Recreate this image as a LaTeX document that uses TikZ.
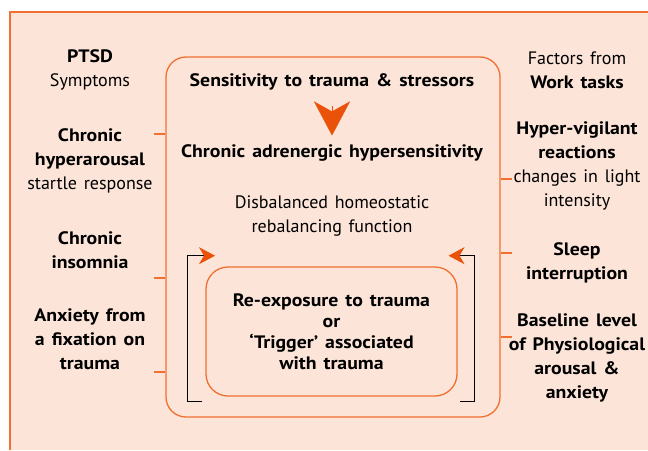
\documentclass[tikz,border=0pt]{standalone}
\usepackage{fontspec}
\setmainfont{PT Sans}[WordSpace=1.4, BoldFeatures={FakeStretch=1.1}]
\usetikzlibrary{arrows.meta, positioning}
\definecolor{peach}{RGB}{252,228,216}
\definecolor{boxline}{RGB}{240,112,50}
\definecolor{tipfill}{RGB}{233,82,8}
\begin{document}
\begin{tikzpicture}[x=1pt, y=-1pt,
	txt/.style={align=center, inner sep=1pt, font=\fontsize{18}{24}\selectfont},
	btxt/.style={txt, font=\bfseries\fontsize{18}{24}\selectfont},
	frame/.style={draw=boxline, line width=1.3pt, rounded corners=20pt},
	tick/.style={draw=boxline, line width=1.4pt},
	bracket/.style={draw=black, line width=1pt},
	smalltip/.style={-{Stealth[color=tipfill, length=16pt, width=17pt, inset=5pt]}},
	bigarrow/.style={draw=tipfill, line width=0.1pt, -{Stealth[fill=tipfill, length=34pt, width=36pt, inset=10pt]}}]

		\useasboundingbox (0,0) rectangle (648,450);
		\fill[peach] (10,12) rectangle (648,450);
		\draw[boxline, line width=1.5pt] (10,450) -- (10,12) -- (648,12);

		% the two boxes
		\node[frame, minimum width=334pt, minimum height=360pt] (outer) at (333,237) {};
		\node[frame, rounded corners=22pt, minimum width=251pt, minimum height=129pt] (inner) at (331.5,331.5) {};

		% middle column
		\node[btxt] (sens) at (332,82) {Sensitivity to trauma \& stressors};
		\node[btxt] (adren) at (332,153) {Chronic adrenergic hypersensitivity};
		\node[txt] (disb) at (332,216) {Disbalanced homeostatic\\rebalancing function};
		\node[txt, font=\bfseries\fontsize{18}{21}\selectfont] (reexp) at (inner) {Re-exposure to trauma\\or\\`Trigger' associated\\with trauma};

		% left column
		\node[txt] (ptsd) at (90,70) {\textbf{PTSD}\\Symptoms};
		\node[txt] (hyper) at (90,161) {\textbf{Chronic}\\\textbf{hyperarousal}\\startle response};
		\node[btxt] (insom) at (90,250) {Chronic\\insomnia};
		\node[btxt] (anx) at (90,339) {Anxiety from\\a fixation on\\trauma};

		% right column
		\node[txt] (factors) at (577,70.5) {Factors from\\\textbf{Work tasks}};
		\node[txt] (vigil) at (577,166) {\textbf{Hyper-vigilant}\\\textbf{reactions}\\changes in light\\intensity};
		\node[btxt] (sleep) at (577,262.5) {Sleep\\interruption};
		\node[btxt] (base) at (577,358) {Baseline level\\of Physiological\\arousal \&\\anxiety};

		\draw[bigarrow, shorten <=15pt, shorten >=8pt] (sens.south) -- (adren.north);

		% ticks on the outer box
		\coordinate (tl1) at (154,134);
		\coordinate (tl2) at (154,278);
		\coordinate (tl3) at (154,372);
		\coordinate (tr1) at (512,179);
		\coordinate (tr2) at (512,253);
		\coordinate (tr3) at (512,337);
		\foreach \t in {tl1,tl2,tl3} \draw[tick] (\t) -- (\t -| outer.west);
		\foreach \t in {tr1,tr2,tr3} \draw[tick] (\t) -- (\t -| outer.east);

		% feedback brackets
		\coordinate (lb1) at (202,401);
		\coordinate (lb2) at (187,401);
		\coordinate (lb3) at (187,255.7);
		\coordinate (lb4) at (215,255.7);
		\coordinate (rb1) at (460,401);
		\coordinate (rb2) at (474,401);
		\coordinate (rb3) at (474,255.7);
		\coordinate (rb4) at (448.5,255.7);
		\draw[bracket, smalltip] (lb1) -- (lb2) -- (lb3) -- (lb4);
		\draw[bracket, smalltip] (rb1) -- (rb2) -- (rb3) -- (rb4);

\end{tikzpicture}
\end{document}
